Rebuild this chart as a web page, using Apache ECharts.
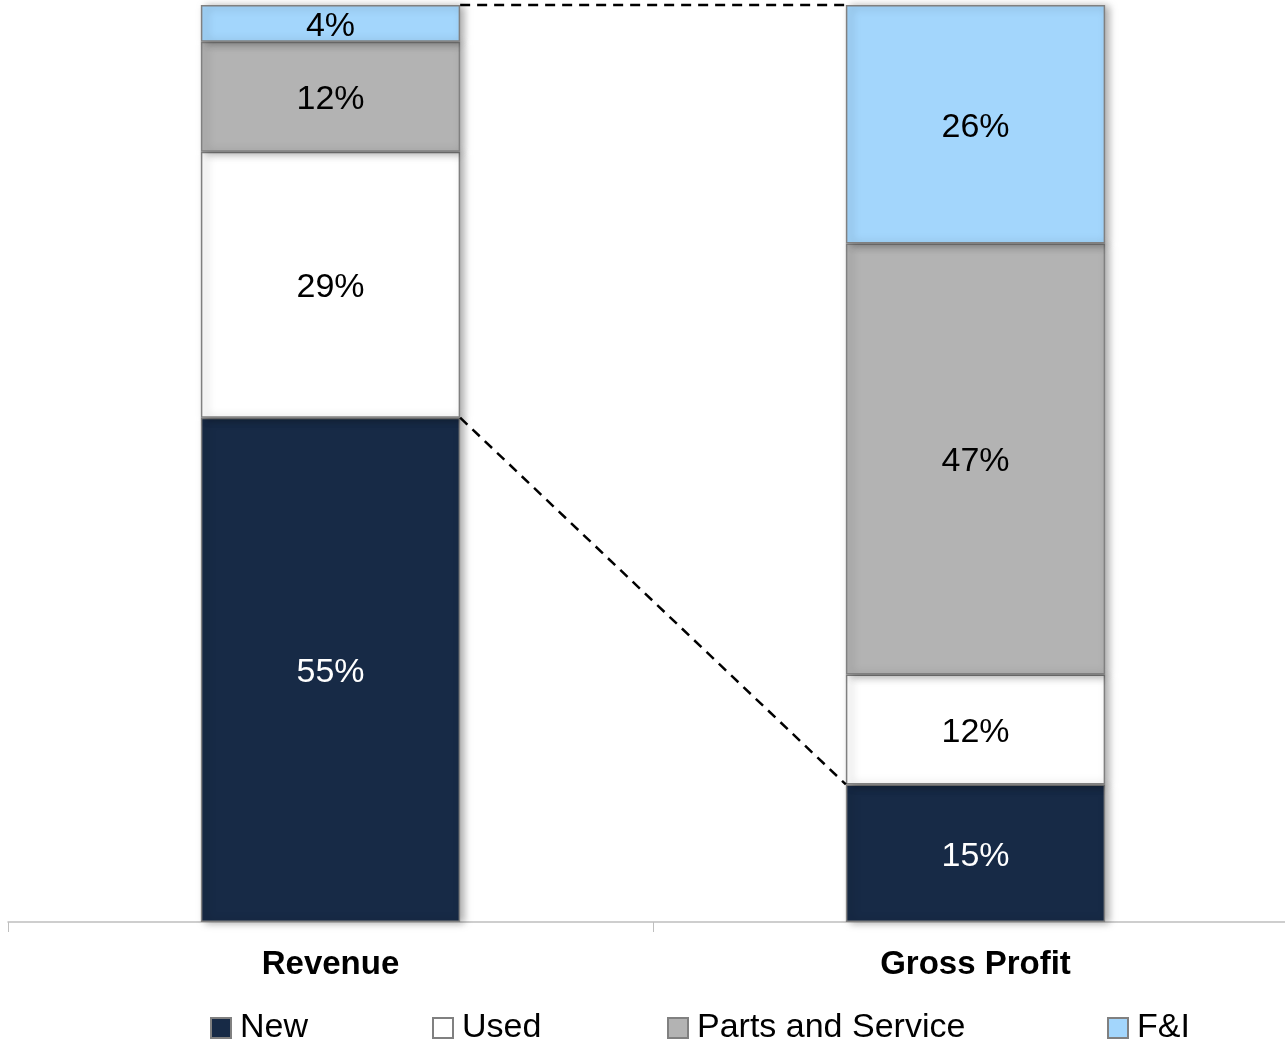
<!DOCTYPE html>
<html>
<head>
<meta charset="utf-8">
<script src="https://cdn.jsdelivr.net/npm/echarts@6/dist/echarts.min.js"></script>
<style>
  html, body { margin: 0; padding: 0; background: #fff; overflow: hidden; }
  #main { width: 1298px; height: 1041px; }
</style>
</head>
<body>
<div id="main"></div>
<script>
// 数据
var categories = ['Revenue', 'Gross Profit'];
var newShare = [55, 15];
var usedShare = [29, 12];
var partsShare = [12, 47];
var fiShare = [4, 26];

var legendNames = ['New', 'Used', 'Parts and Service', 'F&I'];
var legendLeft = [205, 427, 662, 1102];

var font = "'Liberation Sans', Arial, sans-serif";

// 虚线连接: [起始类目, 起始值, 结束类目, 结束值]
var connectors = [
  [0, 100, 1, 100],
  [0, newShare[0], 1, newShare[1]],
];

function barSeries(name, data, color, labelColor) {
  return {
    name: name,
    type: 'bar',
    stack: 'total',
    barWidth: '40.2%',
    data: data,
    itemStyle: {
      color: color,
      borderColor: '#808080',
      borderWidth: 1.5,
      shadowColor: 'rgba(0,0,0,0.35)',
      shadowBlur: 8,
      shadowOffsetX: 4,
      shadowOffsetY: 1,
    },
    label: {
      show: true,
      position: 'inside',
      offset: [0, 3],
      formatter: '{c}%',
      fontFamily: font,
      fontSize: 34,
      color: labelColor,
    },
    emphasis: { disabled: true },
  };
}

// 每个图例单独定位
var legends = legendNames.map(function (name, i) {
  return {
    data: [name],
    left: legendLeft[i],
    top: 1006,
    itemWidth: 20,
    itemHeight: 20,
    icon: 'rect',
    selectedMode: false,
    textStyle: {
      fontFamily: font,
      fontSize: 34,
      color: '#000',
      padding: [0, 0, 0, 4],
    },
  };
});

var chart = echarts.init(document.getElementById('main'));

chart.setOption({
  animation: false,
  grid: {
    left: 8,
    right: 0,
    top: 5,
    bottom: 119,
    containLabel: false,
  },
  legend: legends,
  xAxis: {
    type: 'category',
    data: categories,
    axisLine: { lineStyle: { color: '#bfbfbf', width: 1.5 } },
    axisTick: { show: true, length: 10, lineStyle: { color: '#bfbfbf' } },
    axisLabel: {
      margin: 26,
      fontFamily: font,
      fontSize: 33,
      fontWeight: 'bold',
      color: '#000',
    },
  },
  yAxis: {
    type: 'value',
    min: 0,
    max: 100,
    show: false,
  },
  series: [
    barSeries('New', newShare, '#172a46', '#fff'),
    barSeries('Used', usedShare, '#ffffff', '#000'),
    barSeries('Parts and Service', partsShare, '#b3b3b3', '#000'),
    barSeries('F&I', fiShare, '#a3d6fc', '#000'),
    {
      name: 'connector',
      type: 'custom',
      data: connectors,
      silent: true,
      z: 5,
      renderItem: function (params, api) {
        var p1 = api.coord([api.value(0), api.value(1)]);
        var p2 = api.coord([api.value(2), api.value(3)]);
        var half = api.size([1, 0])[0] * 0.201;
        return {
          type: 'line',
          shape: { x1: p1[0] + half, y1: p1[1], x2: p2[0] - half, y2: p2[1] },
          style: { stroke: '#000', lineWidth: 2.5, lineDash: [10, 7] },
        };
      },
    },
  ],
});
</script>
</body>
</html>
